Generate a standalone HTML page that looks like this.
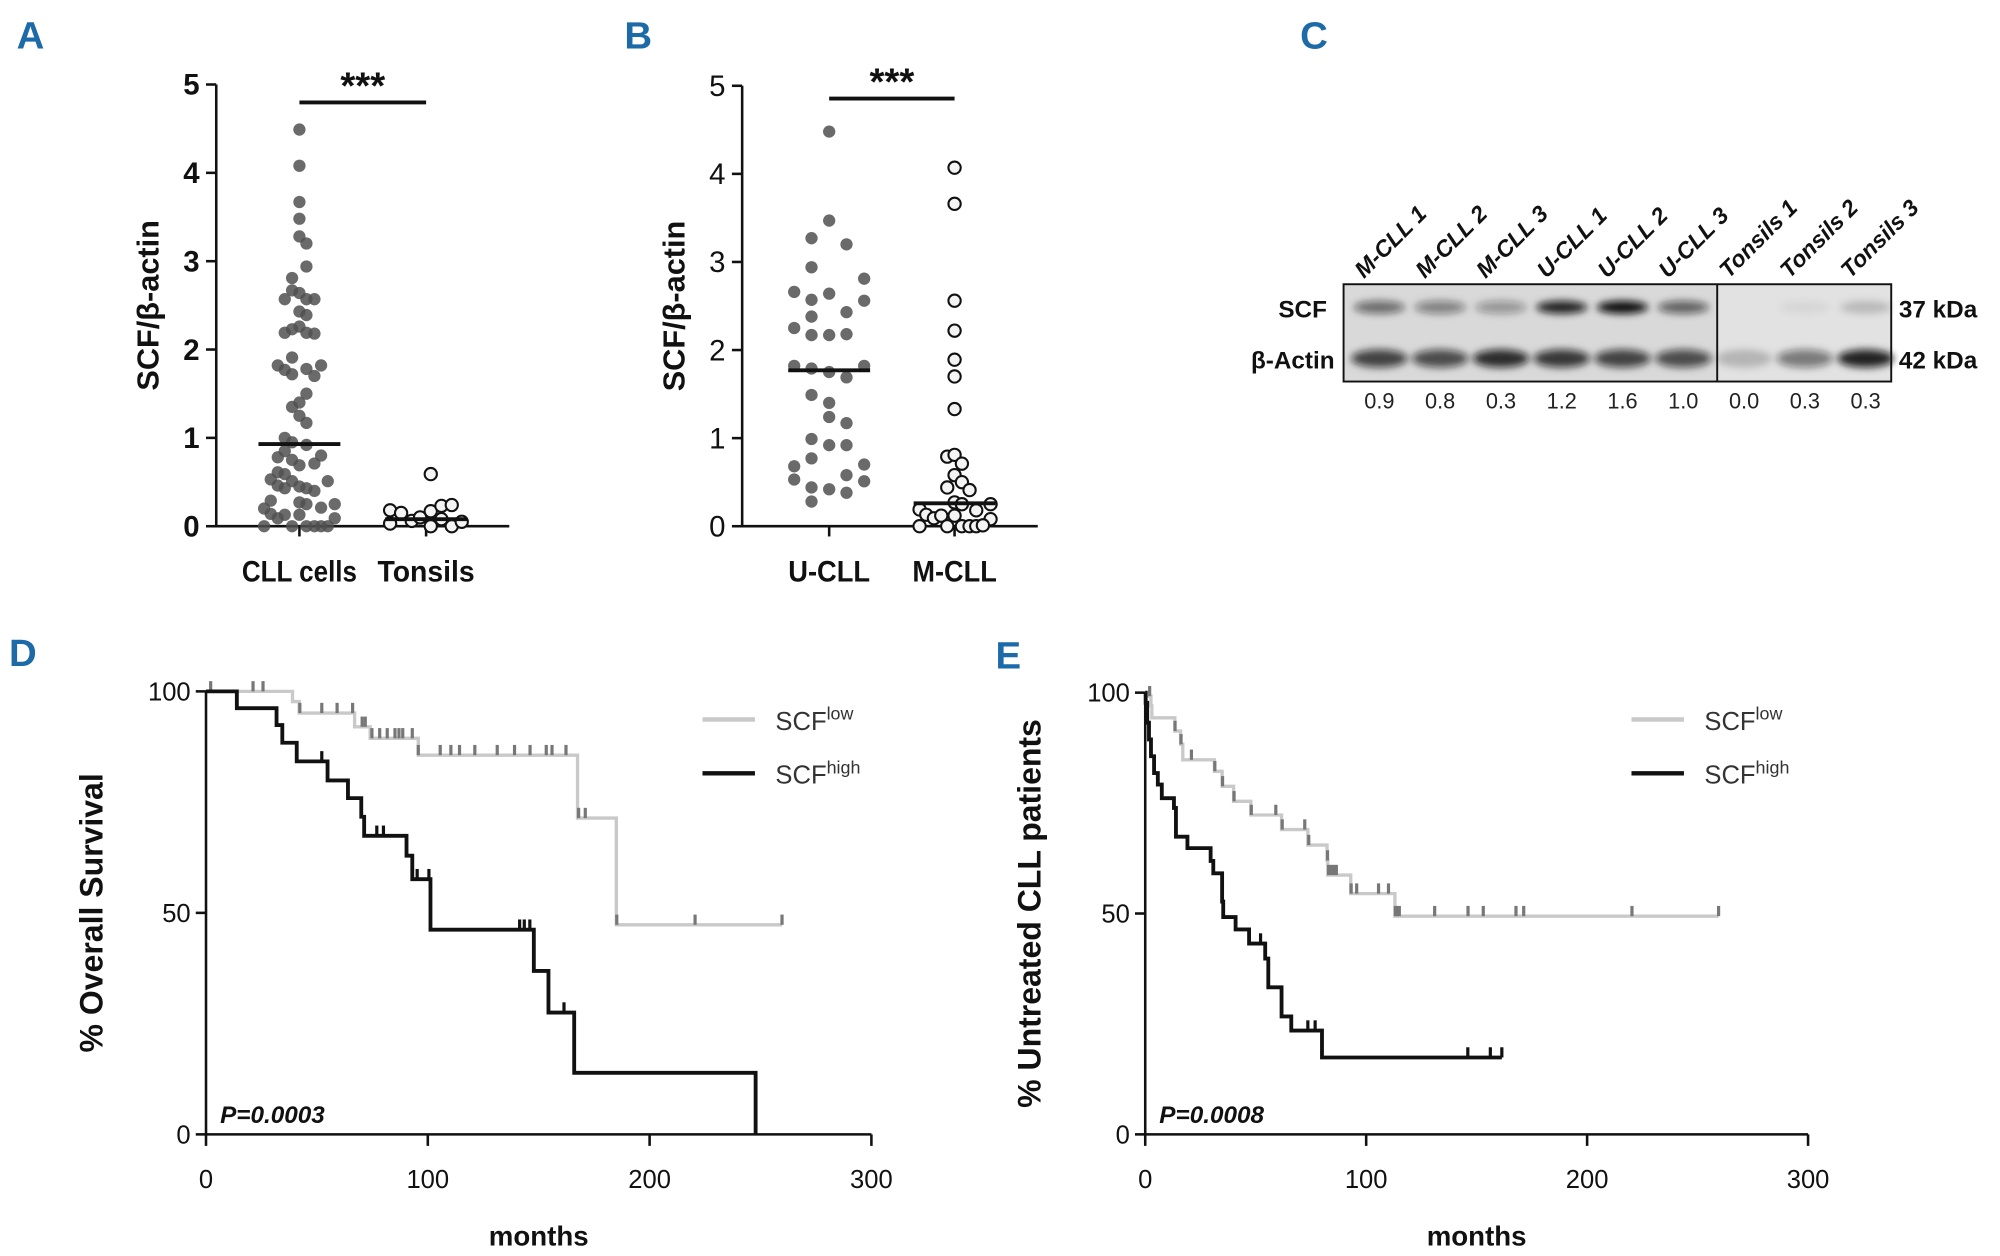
<!DOCTYPE html>
<html><head><meta charset="utf-8"><style>
body{margin:0;background:#fff}
svg{display:block}
text{font-family:"Liberation Sans Narrow","Liberation Sans",sans-serif}
</style></head><body>
<svg id="fig" xmlns="http://www.w3.org/2000/svg" width="2000" height="1256" viewBox="0 0 1563 981" preserveAspectRatio="none">
<defs><filter id="blur" x="-50%" y="-100%" width="200%" height="300%"><feGaussianBlur stdDeviation="3"/></filter></defs>
<g fill="#1d6aa8" font-size="30" font-weight="bold">
<text x="13" y="38">A</text>
<text x="488" y="38">B</text>
<text x="1016" y="38">C</text>
<text x="7" y="520">D</text>
<text x="778" y="522">E</text>
</g>
<g id="pa"></g>
<g id="pb"></g>
<g id="pc"></g>
<g id="pd"></g>
<g id="pe"></g>
</svg>
<script>
// ---------- Panel A data ----------
const aCategories = ["CLL cells", "Tonsils"];
const aCllValues = [4.49,4.08,3.67,3.48,3.28,3.2,2.94,2.81,2.67,2.57,2.64,2.57,2.57,2.43,2.39,2.19,2.23,2.26,2.19,2.18,1.91,1.82,1.77,1.72,1.78,1.70,1.82,1.50,1.40,1.35,1.25,1.17,1.0,0.95,0.92,0.85,0.78,0.75,0.69,0.71,0.80,0.61,0.59,0.53,0.51,0.51,0.46,0.43,0.45,0.43,0.40,0.29,0.27,0.25,0.25,0.2,0.14,0.09,0.13,0.13,0.21,0.09,0,0,0,0,0,0];
const aCllJitter = [0,0,0,0,0,21,21,-22,-22,-44,0,21,45,0,21,-44,-22,0,21,45,-22,-65,-44,-22,21,45,65,21,0,-22,0,21,-44,-22,21,-44,-65,-22,0,45,65,-65,-44,-86,-22,85,-65,-44,0,21,45,-86,0,21,106,-106,-86,-65,-44,0,65,106,-106,-22,21,45,65,85];
const aTonValues = [0.59,0.18,0.15,0.06,0.1,0.17,0.23,0.24,0.03,0,0,0.05,0.08];
const aTonJitter = [14,-108,-75,-43,-18,14,46,77,-108,14,77,107,46];
const aCllMedian = 0.93, aTonMedian = 0.08;
const aTicks = [0,1,2,3,4,5];
// ---------- Panel B data ----------
const bCategories = ["U-CLL", "M-CLL"];
const bUValues = [4.48,3.47,3.27,3.2,2.94,2.81,2.66,2.57,2.64,2.56,2.38,2.43,2.25,2.17,2.17,2.18,1.82,1.79,1.75,1.69,1.82,1.49,1.40,1.24,1.17,0.99,0.92,0.92,0.77,0.68,0.70,0.53,0.58,0.51,0.44,0.42,0.38,0.28];
const bUJitter = [0,0,-53,52,-53,105,-105,-53,0,105,-53,52,-105,-53,0,52,-105,-53,0,52,105,-53,0,0,52,-53,0,52,-53,-105,105,-105,52,105,-53,0,52,-53];
const bMValues = [4.07,3.66,2.56,2.22,1.89,1.70,1.33,0.79,0.81,0.71,0.58,0.50,0.44,0.41,0.27,0.25,0.25,0.19,0.13,0.09,0.12,0.12,0.18,0.08,0,0,0,0,0,0.01];
const bMJitter = [0,0,0,0,0,0,0,-22,0,22,0,22,-22,45,0,22,108,-105,-85,-62,-40,0,65,108,-105,-22,22,45,65,85];
const bUMedian = 1.77, bMMedian = 0.26;
const bTicks = [0,1,2,3,4,5];
// ---------- Panel C data ----------
const cLanes = ["M-CLL 1","M-CLL 2","M-CLL 3","U-CLL 1","U-CLL 2","U-CLL 3","Tonsils 1","Tonsils 2","Tonsils 3"];
const cRatios = ["0.9","0.8","0.3","1.2","1.6","1.0","0.0","0.3","0.3"];
const cScfIntensity = [0.55,0.45,0.35,0.9,1.0,0.6,0.0,0.05,0.18];
const cActinIntensity = [0.75,0.7,0.85,0.8,0.75,0.7,0.2,0.5,0.9];
// ---------- Panel D data ----------
const dXTicks = [0,100,200,300];
const dYTicks = [0,50,100];
const dLowEventTimes = [39,42,67,74,95.7,167.5,185];
const dLowSurv = [97.7,95.1,92.0,89.4,85.6,71.4,47.3];
const dLowEnd = 259.7;
const dLowCensor = [2.1,21.2,25.7,42.3,52.2,59.1,66.1,70.4,71.8,74.8,78.3,81.7,85.2,87,88.7,93,95.7,105.6,110.4,114.3,121.2,131.3,139.1,146.1,153.4,156,162.3,168,171,185.2,220.5,259.7];
const dHighEventTimes = [13.9,31.8,34.4,40.9,54.8,64,70,71.3,90.4,93,101.2,147.8,154.4,166,247.8];
const dHighSurv = [96.2,92.4,88.4,84.2,79.9,75.9,71.7,67.4,62.9,57.6,46.2,36.9,27.5,13.9,0];
const dHighEnd = 247.8;
const dHighCensor = [52.2,77,80,95.2,100.5,141.4,143.5,146,161.4];
// ---------- Panel E data ----------
const eXTicks = [0,100,200,300];
const eYTicks = [0,50,100];
const eLowEventTimes = [0.9,2.6,3.0,13.4,16,17,31.3,34.8,40,47.8,61.7,73.6,82.3,82.6,93,113];
const eLowSurv = [99.2,97.0,94.3,91.3,88.3,84.8,82.2,78.8,75.4,72.3,69.0,65.5,62.0,58.7,54.5,49.4];
const eLowEnd = 259.5;
const eLowCensor = [2,13.5,16.2,20.9,31.5,35,40.2,48,59.1,62,72.2,74,82.5,83,84.2,85.4,86.5,93.2,95.7,105.6,110.1,113.2,114,115,131,146.1,153,167.8,171.3,220.3,259.5];
const eHighEventTimes = [0.2,0.9,1.7,2.6,4,5.7,7.5,13,13.9,19.1,29.6,30.8,34.8,35.3,40.9,47,54.3,55.7,61.7,66.1,80];
const eHighSurv = [97.7,93.2,89.4,85.6,81.8,79.2,76.1,73.9,67.4,64.8,61.9,59.1,52.7,49.2,46.4,43.2,39.8,33.3,26.7,23.5,17.4];
const eHighEnd = 161.4;
const eHighCensor = [52.2,73.6,76.9,146,156.2,161.4];

const NS = "http://www.w3.org/2000/svg";
function mk(parent, tag, attrs, txt){
  const el = document.createElementNS(NS, tag);
  for (const k in attrs) el.setAttribute(k, attrs[k]);
  if (txt !== undefined) el.textContent = txt;
  parent.appendChild(el);
  return el;
}

function scatter(gid, cfg){
  const g = document.getElementById(gid);
  const y = v => cfg.y0 - v * (cfg.y0 - cfg.y5) / 5;
  const ax = mk(g,'path',{d:`M${cfg.ax} ${cfg.y5} V${cfg.y0} H${cfg.axEnd}`,stroke:'#111','stroke-width':2,fill:'none'});
  
  
  cfg.ticks.forEach(t=>{
    const tk = mk(g,'line',{x1:cfg.ax-8,x2:cfg.ax,y1:y(t),y2:y(t),stroke:'#111','stroke-width':2});
    
    
    const tl = mk(g,'text',{x:cfg.ax-13,y:y(t)+8,'text-anchor':'end','font-size':23,'font-weight':cfg.bold?'bold':'normal',fill:'#111'},String(t));
    
    
  });
  const yt = mk(g,'text',{transform:`translate(${cfg.titleX},${y(2.5)}) rotate(-90)`,'text-anchor':'middle','font-size':24,'font-weight':'bold',fill:'#111'},'SCF/β-actin');
  
  
  cfg.groups.forEach((grp,gi)=>{
    const cx = cfg.cx[gi];
    const tk = mk(g,'line',{x1:cx,x2:cx,y1:cfg.y0,y2:cfg.y0+8,stroke:'#111','stroke-width':2});
    
    
    const cl = mk(g,'text',{x:cx,y:cfg.y0+43,'text-anchor':'middle','font-size':23,'font-weight':'bold',fill:'#111',textLength:cfg.catW[gi],lengthAdjust:'spacingAndGlyphs'},cfg.cats[gi]);
    
    
    grp.vals.forEach((v,i)=>{
      const c = mk(g,'circle',{cx:cx+grp.jit[i]/3.84,cy:y(v),r:4.8,fill:grp.filled?'rgba(80,80,80,0.85)':'#f4f4f4',stroke:grp.filled?'none':'#111','stroke-width':1.6});
      
      
    });
    const md = mk(g,'line',{x1:cx-32,x2:cx+32,y1:y(grp.median),y2:y(grp.median),stroke:'#111','stroke-width':3});
    
    
  });
  const sb = mk(g,'line',{x1:cfg.cx[0],x2:cfg.cx[1],y1:cfg.sigY,y2:cfg.sigY,stroke:'#111','stroke-width':3});
  
  
  const st = mk(g,'text',{x:(cfg.cx[0]+cfg.cx[1])/2,y:cfg.sigY-3,'text-anchor':'middle','font-size':30,'font-weight':'bold',fill:'#111'},'***');
  
  
}
scatter('pa',{ax:169,axEnd:398,y0:411,y5:66,ticks:aTicks,bold:true,titleX:124,cx:[234,333],cats:aCategories,catW:[90,76],sigY:80,
  groups:[{vals:aCllValues,jit:aCllJitter,filled:true,median:aCllMedian},{vals:aTonValues,jit:aTonJitter,filled:false,median:aTonMedian}]});
scatter('pb',{ax:580,axEnd:811,y0:411,y5:67,ticks:bTicks,bold:false,titleX:535,cx:[648,746],cats:bCategories,catW:[64,66],sigY:77,
  groups:[{vals:bUValues,jit:bUJitter,filled:true,median:bUMedian},{vals:bMValues,jit:bMJitter,filled:false,median:bMMedian}]});

(function(){
  const g = document.getElementById('pc');
  const bx0=1050, bx1=1478, by0=222, by1=298, div=1342;
  const laneX = i => 1078 + i*((1458-1078)/8);
  const bg = mk(g,'rect',{x:bx0,y:by0,width:bx1-bx0,height:by1-by0,fill:'#d9d9d9',stroke:'#111','stroke-width':1.5});
  
  
  const bg2 = mk(g,'rect',{x:div,y:by0+1,width:bx1-div-1,height:by1-by0-2,fill:'#e2e2e2'});
  
  
  cLanes.forEach((lab,i)=>{
    const x = laneX(i);
    const s = mk(g,'ellipse',{cx:x,cy:240,rx:20,ry:5,fill:'#111','fill-opacity':cScfIntensity[i],filter:'url(#blur)'});
    
    
    const a = mk(g,'ellipse',{cx:x,cy:280,rx:22,ry:7,fill:'#111','fill-opacity':cActinIntensity[i],filter:'url(#blur)'});
    
    
    const t = mk(g,'text',{transform:`translate(${x-12},${218}) rotate(-45)`,'font-size':18,'font-weight':'bold','font-style':'italic',fill:'#111'},lab);
    
    
    const n = mk(g,'text',{x:x,y:319,'text-anchor':'middle','font-size':17,fill:'#222'},cRatios[i]);
    
    
  });
  const d = mk(g,'line',{x1:div,x2:div,y1:by0,y2:by1,stroke:'#111','stroke-width':1.5});
  
  
  [['SCF',1037,248,'scf-row-label'],['β-Actin',1043,288,'actin-row-label']].forEach(r=>{
    const t = mk(g,'text',{x:r[1],y:r[2],'text-anchor':'end','font-size':19,'font-weight':'bold',fill:'#111'},r[0]);
    
    
  });
  [['37 kDa',248,'kda-37-label'],['42 kDa',288,'kda-42-label']].forEach(r=>{
    const t = mk(g,'text',{x:1484,y:r[1],'font-size':19,'font-weight':'bold',fill:'#111'},r[0]);
    
    
  });
})();

function km(gid, cfg){
  const g = document.getElementById(gid);
  const X = t => cfg.x0 + t*(cfg.x300-cfg.x0)/300;
  const Y = p => cfg.y0 - p*(cfg.y0-cfg.y100)/100;
  const ax = mk(g,'path',{d:`M${X(0)} ${Y(100)} V${Y(0)} H${X(300)}`,stroke:'#111','stroke-width':2,fill:'none'});
  
  
  cfg.xt.forEach(t=>{
    const tk = mk(g,'line',{x1:X(t),x2:X(t),y1:Y(0),y2:Y(0)+9,stroke:'#111','stroke-width':2});
    
    
    const tl = mk(g,'text',{x:X(t),y:Y(0)+42,'text-anchor':'middle','font-size':20,fill:'#111'},String(t));
    
    
  });
  cfg.yt.forEach(t=>{
    const tk = mk(g,'line',{x1:X(0)-8,x2:X(0),y1:Y(t),y2:Y(t),stroke:'#111','stroke-width':2});
    
    
    const tl = mk(g,'text',{x:X(0)-12,y:Y(t)+7,'text-anchor':'end','font-size':20,fill:'#111'},String(t));
    
    
  });
  const xt = mk(g,'text',{x:(X(0)+X(300))/2,y:973,'text-anchor':'middle','font-size':22,'font-weight':'bold',fill:'#111',textLength:78,lengthAdjust:'spacingAndGlyphs'},'months');
  
  
  const yt = mk(g,'text',{transform:`translate(${cfg.titleX},${Y(50)}) rotate(-90)`,'text-anchor':'middle','font-size':25,'font-weight':'bold',fill:'#111','xml:space':'preserve'},cfg.title);
  
  
  const pv = mk(g,'text',{x:X(0)+11,y:Y(0)-9,'font-size':19,'font-weight':'bold','font-style':'italic',fill:'#111'},cfg.p);
  
  
  function curve(times, surv, end, cens, color, tickColor, w, name){
    let d = `M${X(0)} ${Y(100)}`;
    times.forEach((t,i)=>{ d += ` H${X(t)} V${Y(surv[i])}`; });
    d += ` H${X(end)}`;
    const p = mk(g,'path',{d:d,stroke:color,'stroke-width':w,fill:'none'});
    
    
    const at = t => { let s=100; times.forEach((tt,i)=>{ if (tt<=t) s=surv[i]; }); return s; };
    cens.forEach(t=>{
      const c = mk(g,'line',{x1:X(t),x2:X(t),y1:Y(at(t)),y2:Y(at(t))-8,stroke:tickColor,'stroke-width':2.5});
      
      
    });
  }
  curve(cfg.low[0],cfg.low[1],cfg.low[2],cfg.low[3],'#c9c9c9','#777',2.6,'scf-low-curve');
  curve(cfg.high[0],cfg.high[1],cfg.high[2],cfg.high[3],'#111','#111',3,'scf-high-curve');
  [['#c9c9c9',562,'low','legend-entry-scf-low'],['#111',604,'high','legend-entry-scf-high']].forEach(l=>{
    const lg = mk(g,'g',{});
    
    
    mk(lg,'line',{x1:cfg.legX,x2:cfg.legX+41,y1:l[1],y2:l[1],stroke:l[0],'stroke-width':3.5});
    const t = mk(lg,'text',{x:cfg.legX+57,y:l[1]+8,'font-size':20,fill:'#333'});
    mk(t,'tspan',{},'SCF');
    mk(t,'tspan',{dy:-8,'font-size':14},l[2]);
  });
}
km('pd',{x0:161,x300:681,y0:886,y100:540,xt:dXTicks,yt:dYTicks,titleX:80,title:'% Overall  Survival',p:'P=0.0003',legX:549,
  low:[dLowEventTimes,dLowSurv,dLowEnd,dLowCensor],high:[dHighEventTimes,dHighSurv,dHighEnd,dHighCensor]});
km('pe',{x0:895,x300:1413,y0:886,y100:541,xt:eXTicks,yt:eYTicks,titleX:813,title:'% Untreated CLL patients',p:'P=0.0008',legX:1275,
  low:[eLowEventTimes,eLowSurv,eLowEnd,eLowCensor],high:[eHighEventTimes,eHighSurv,eHighEnd,eHighCensor]});
</script>
</body></html>
